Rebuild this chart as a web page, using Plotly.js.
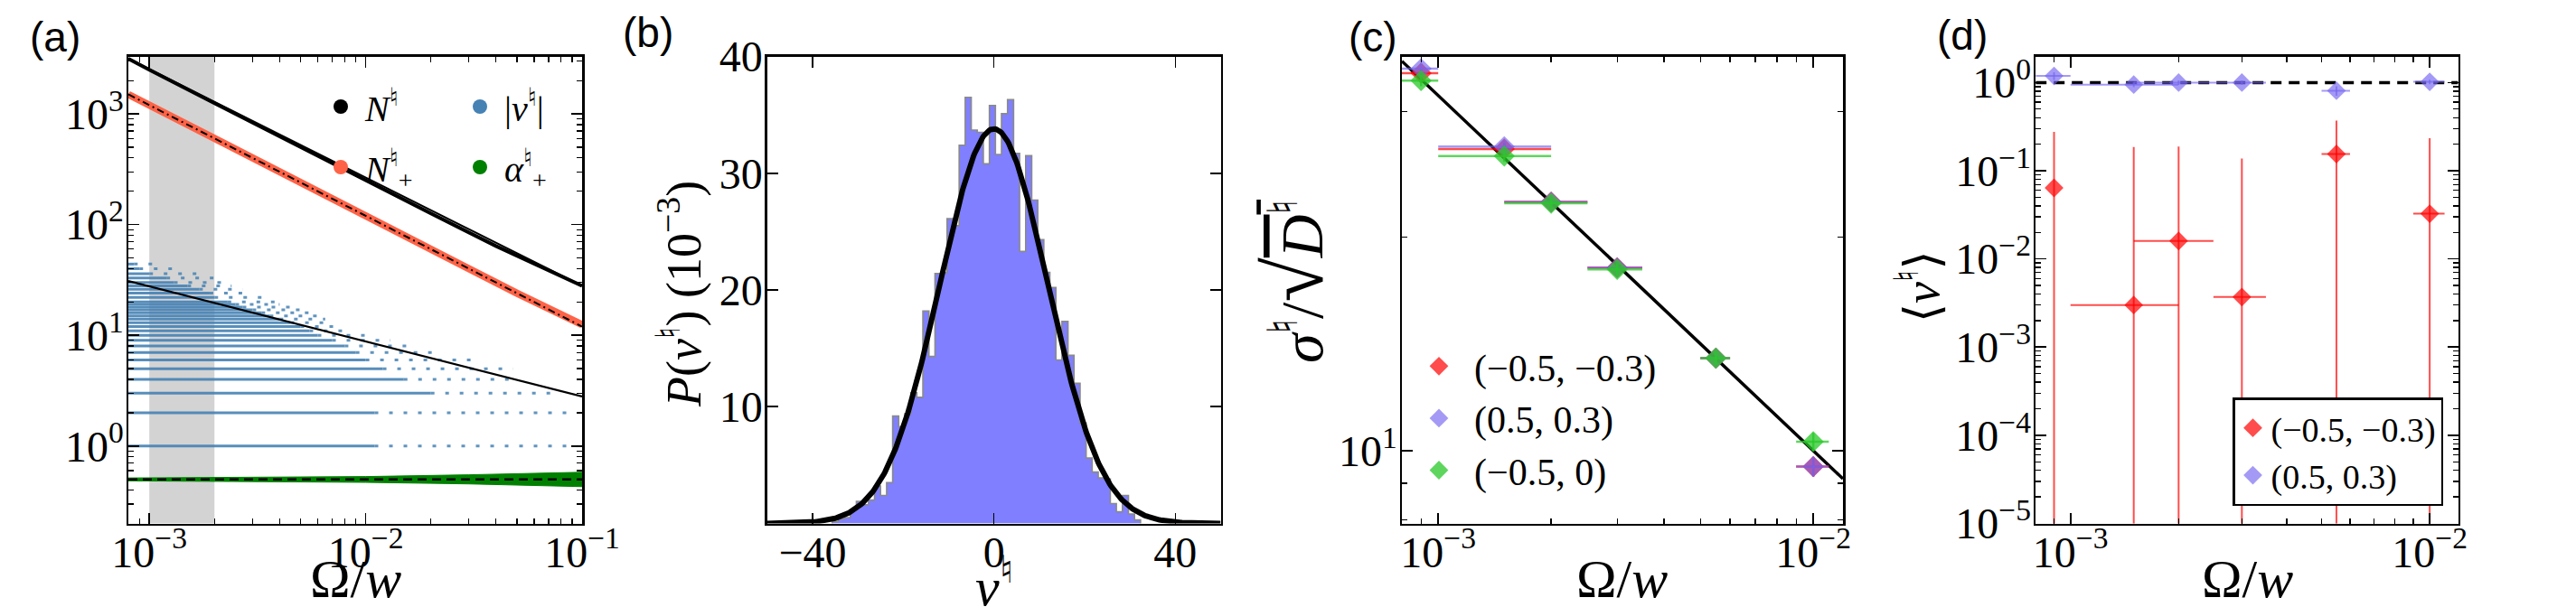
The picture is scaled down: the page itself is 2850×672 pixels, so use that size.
<!DOCTYPE html>
<html><head><meta charset="utf-8">
<script src="https://cdn.plot.ly/plotly-3.0.1.min.js"></script>
<style>html,body{margin:0;padding:0;background:#fff}</style>
</head><body>
<div id="chart" style="width:2850px;height:672px"></div>
<script>
// ================= DATA =================
// ---- panel (a) ----
const aRangeX = [8e-4, 0.1];
const aRangeY = [0.2, 3300];
const grayWindow = [1e-3, 2e-3];
const omegaN = [8e-4, 1e-3, 2e-3, 5e-3, 1e-2, 2e-2, 4e-2, 7e-2, 0.1];
const valN = [3150, 2500, 1250, 500, 250, 126, 64, 39, 28];
const fitNx = [8e-4, 0.1];
const fitNy = [3150, 28];
const omegaNplus = [8e-4, 1e-3, 2e-3, 5e-3, 1e-2, 2e-2, 5e-2, 0.1];
const valNplus = [1500, 1200, 610, 240, 118, 60, 24, 12.5];
const fitNplusY = [1500, 12];
const nuLevels = [1,2,3,4,5,6,7,8,9,10,11,12,13,14,15,16,17,18,19,20,22,24,26,28,30,33,36,40,44];
const nuDenseMax = [0.011,0.011,0.02,0.015,0.012,0.01,0.009,0.008,0.007,0.006,0.0055,0.005,0.0045,0.004,0.0036,0.0033,0.003,0.0027,0.0025,0.0023,0.002,0.0019,0.0017,0.0015,0.0013,0.0012,0.001,0.0009,0.00085];
const nuSparseMax = [0.095,0.09,0.08,0.048,0.048,0.034,0.022,0.016,0.013,0.0105,0.0085,0.0075,0.007,0.0065,0.006,0.0055,0.005,0.0045,0.004,0.0038,0.0035,0.003,0.0027,0.0024,0.0022,0.002,0.0017,0.0014,0.0011];
const fitNuY = [31, 2.8];
const omegaAlpha = [8e-4, 3e-3, 1e-2, 3e-2, 6e-2, 0.1];
const alphaHi = [0.515, 0.52, 0.53, 0.55, 0.57, 0.58];
const alphaLo = [0.485, 0.48, 0.47, 0.455, 0.44, 0.43];
const alphaFit = [0.5, 0.5];

// ---- panel (b) ----
const histStart = -35.667;
const histWidth = 4/3;
const histHeights = [0.15,0.4,0.5,1.1,1.9,1.6,2.0,3.2,2.4,3.5,9.2,8.3,9.4,11.2,10.8,18.2,14.3,21.4,21.5,26.1,25.5,32.4,36.5,33.7,33.5,30.8,35.8,31.6,35.1,36.3,31.7,23.3,31.5,27.7,24.3,21.5,20.2,14.0,17.3,14.4,12.0,8.6,5.6,4.4,3.9,3.8,1.7,1.0,2.4,0.8,0.3];
const gaussMean = 0, gaussSigma = 11.9, gaussPeak = 33.8;
const bRangeX = [-50, 50];

// ---- panel (c) ----
const omegaPts = [9e-4, 1.5e-3, 2e-3, 3e-3, 5.5e-3, 1e-2];
const omegaErr = [1e-4, 5e-4, 5e-4, 5e-4, 5e-4, 1e-3];
const sigRed = [34.0, 26.6, 22.4, 18.1, 13.5, 9.5];
const sigPurple = [34.5, 26.8, 22.4, 18.1, 13.5, 9.5];
const sigGreen = [33.2, 26.0, 22.3, 18.0, 13.5, 10.3];
const sigErr = [0.6, 0.5, 0.4, 0.35, 0.3, 0.3];
const fitSigX = [8e-4, 1.2e-2];
const fitSigY = [35.36, 9.13];

// ---- panel (d) ----
const nuMeanRed = [0.064, 0.0030, 0.016, 0.0037, 0.155, 0.0326];
const nuErrRed = [0.213, 0.183, 0.172, 0.134, 0.216, 0.201];
const omegaErrRedD = [0, 5e-4, 5e-4, 5e-4, 5e-4, 1e-3];
const nuMeanPurple = [1.19, 0.95, 1.0, 1.0, 0.81, 1.02];
const nuErrPurple = [0.12, 0.06, 0.06, 0.06, 0.1, 0.06];
const refLineY = [1, 1];

const seriesNames = ['(−0.5, −0.3)', '(0.5, 0.3)', '(−0.5, 0)'];

// ================= STYLE =================
const W = 2850, H = 672;
const px = v => v / W, py = v => 1 - v / H;
const SERIF = 'Liberation Serif, DejaVu Serif, serif';
const SANS = 'Liberation Sans, Arial, sans-serif';
const RED = 'rgba(255,0,0,0.7)';
const PURPLE = 'rgba(115,100,240,0.65)';
const GREEN = 'rgba(40,200,40,0.75)';
const BLUE = '#4682b4';
const TOMATO = '#ff6347';
const yDom = [py(579.5), py(62.5)];
const TICK = 48, LEG = 40, XT = 60, YT = 54, PANEL = 46;

function minorLog(lo, hi) {
  const out = [];
  for (let d = Math.floor(Math.log10(lo)); d <= Math.ceil(Math.log10(hi)); d++) {
    for (let k = 2; k <= 9; k++) { const v = k * Math.pow(10, d); if (v > lo && v < hi) out.push(v); }
  }
  return out;
}
function pow10Label(e) { return '10<sup>' + (e < 0 ? '−' + (-e) : e) + '</sup>'; }

const minorStyle = {ticks:'inside', ticklen:6, tickwidth:1.3, tickcolor:'black', showgrid:false};
function baseAxis(extra) {
  return Object.assign({
    showline:true, linecolor:'black', linewidth:2.5, mirror:'ticks',
    ticks:'inside', ticklen:12, tickwidth:1.6, tickcolor:'black',
    showgrid:false, zeroline:false, fixedrange:true,
    tickfont:{family:SERIF, size:TICK, color:'black'}
  }, extra);
}
function logAxis(range, majors, labels, domain, minorVals, extra) {
  return baseAxis(Object.assign({
    type:'log', range:[Math.log10(range[0]), Math.log10(range[1])], domain:domain,
    tickmode:'array', tickvals:majors, ticktext:labels,
    minor:Object.assign({tickmode:'array', tickvals:minorVals}, minorStyle)
  }, extra || {}));
}
const XLBL = {ticklabelstandoff:-12};
const YLBL = {ticklabelstandoff:-7};

// ================= TRACES =================
const traces = [];
// (a) gray window
traces.push({x:[grayWindow[0],grayWindow[1],grayWindow[1],grayWindow[0]], y:[aRangeY[0],aRangeY[0],aRangeY[1],aRangeY[1]],
  mode:'lines', fill:'toself', fillcolor:'#d3d3d3', line:{width:0}, showlegend:false, hoverinfo:'skip', xaxis:'x', yaxis:'y'});
// (a) |nu| levels
const denseX = [], denseY = [], sparseX = [], sparseY = [];
nuLevels.forEach((lv, i) => {
  denseX.push(aRangeX[0], nuDenseMax[i], null); denseY.push(lv, lv, null);
  sparseX.push(nuDenseMax[i], nuSparseMax[i], null); sparseY.push(lv, lv, null);
});
traces.push({x:denseX, y:denseY, mode:'lines', line:{color:BLUE, width:3}, opacity:0.9, connectgaps:false, showlegend:false, xaxis:'x', yaxis:'y'});
traces.push({x:sparseX, y:sparseY, mode:'lines', line:{color:BLUE, width:3, dash:'4px,12px'}, opacity:0.85, connectgaps:false, showlegend:false, xaxis:'x', yaxis:'y'});
traces.push({x:fitNx, y:fitNuY, mode:'lines', line:{color:'black', width:2.2}, showlegend:false, xaxis:'x', yaxis:'y'});
// (a) alpha band
traces.push({x:omegaAlpha, y:alphaLo, mode:'lines', line:{color:'green', width:1}, showlegend:false, xaxis:'x', yaxis:'y'});
traces.push({x:omegaAlpha, y:alphaHi, mode:'lines', line:{color:'green', width:1}, fill:'tonexty', fillcolor:'green', showlegend:false, xaxis:'x', yaxis:'y'});
traces.push({x:fitNx, y:alphaFit, mode:'lines', line:{color:'black', width:2.5, dash:'10px,6px'}, showlegend:false, xaxis:'x', yaxis:'y'});
// (a) N+ and N
traces.push({x:omegaNplus, y:valNplus, mode:'lines', line:{color:TOMATO, width:8}, showlegend:false, xaxis:'x', yaxis:'y'});
traces.push({x:fitNx, y:fitNplusY, mode:'lines', line:{color:'black', width:2, dash:'8px,4px,2px,4px'}, showlegend:false, xaxis:'x', yaxis:'y'});
traces.push({x:omegaN, y:valN, mode:'lines', line:{color:'black', width:4}, showlegend:false, xaxis:'x', yaxis:'y'});
traces.push({x:fitNx, y:fitNy, mode:'lines', line:{color:'black', width:2}, showlegend:false, xaxis:'x', yaxis:'y'});
// (a) legend entries
const legA = [
  {name:'<i>N</i><sup>♮</sup>', color:'black', legend:'legend'},
  {name:'|<i>ν</i><sup>♮</sup>|', color:BLUE, legend:'legend'},
  {name:'<i>N</i><sup>♮</sup><sub>+</sub>', color:TOMATO, legend:'legend2'},
  {name:'<i>α</i><sup>♮</sup><sub>+</sub>', color:'green', legend:'legend2'}
];
legA.forEach(e => traces.push({x:[null], y:[null], mode:'markers', marker:{color:e.color, size:16}, name:e.name, legend:e.legend, xaxis:'x', yaxis:'y'}));

// (b) histogram as step-filled outline
const hx = [histStart], hy = [0];
histHeights.forEach((h, i) => { hx.push(histStart + i*histWidth); hy.push(h); });
hx.push(histStart + histHeights.length*histWidth); hy.push(histHeights[histHeights.length-1]);
hx.push(histStart + histHeights.length*histWidth); hy.push(0);
traces.push({x:hx, y:hy, mode:'lines', line:{shape:'hv', color:'#8a8a8a', width:1.6}, fill:'tozeroy', fillcolor:'rgba(0,0,255,0.5)', showlegend:false, xaxis:'x2', yaxis:'y2'});
const gx = [], gy = [];
for (let i = 0; i <= 400; i++) { const v = bRangeX[0] + (bRangeX[1]-bRangeX[0])*i/400; gx.push(v); gy.push(gaussPeak*Math.exp(-Math.pow(v-gaussMean,2)/(2*gaussSigma*gaussSigma))); }
traces.push({x:gx, y:gy, mode:'lines', line:{color:'black', width:6}, showlegend:false, xaxis:'x2', yaxis:'y2'});

// (c)
traces.push({x:fitSigX, y:fitSigY, mode:'lines', line:{color:'black', width:3.5}, showlegend:false, xaxis:'x3', yaxis:'y3'});
[[sigRed, RED, 0], [sigPurple, PURPLE, 1], [sigGreen, GREEN, 2]].forEach(([ys, col, k]) => {
  traces.push({x:omegaPts, y:ys, mode:'markers', name:seriesNames[k], legend:'legend3',
    marker:{symbol:'diamond', size:18, color:col, line:{width:0}},
    error_x:{type:'data', array:omegaErr, color:col, thickness:2.5, width:0},
    error_y:{type:'data', array:sigErr, color:col, thickness:2.5, width:0},
    xaxis:'x3', yaxis:'y3'});
});

// (d)
traces.push({x:fitSigX, y:refLineY, mode:'lines', line:{color:'black', width:3.5, dash:'12px,8px'}, showlegend:false, xaxis:'x4', yaxis:'y4'});
traces.push({x:omegaPts, y:nuMeanRed, mode:'markers', name:seriesNames[0], legend:'legend4',
  marker:{symbol:'diamond', size:16, color:RED, line:{width:0}},
  error_x:{type:'data', array:omegaErrRedD, color:RED, thickness:2, width:0},
  error_y:{type:'data', array:nuErrRed, color:RED, thickness:2, width:0},
  xaxis:'x4', yaxis:'y4'});
traces.push({x:omegaPts, y:nuMeanPurple, mode:'markers', name:seriesNames[1], legend:'legend4',
  marker:{symbol:'diamond', size:16, color:PURPLE, line:{width:0}},
  error_x:{type:'data', array:omegaErr, color:PURPLE, thickness:2, width:0},
  error_y:{type:'data', array:nuErrPurple, color:PURPLE, thickness:2, width:0},
  xaxis:'x4', yaxis:'y4'});

// ================= LAYOUT =================
const dom = {
  a:[px(142), px(644)], b:[px(848.8), px(1350.5)], c:[px(1551), px(2039)], d:[px(2252.2), px(2719.6)]
};
const legFont = {family:SERIF, size:LEG, color:'black'};
const layout = {
  width:W, height:H, margin:{l:0, r:0, t:0, b:0}, paper_bgcolor:'white', plot_bgcolor:'white',
  font:{family:SERIF, color:'black'},
  xaxis: logAxis(aRangeX, [1e-3,1e-2,1e-1], [pow10Label(-3),pow10Label(-2),pow10Label(-1)], dom.a, minorLog(aRangeX[0], aRangeX[1]), Object.assign({anchor:'y'}, XLBL)),
  yaxis: logAxis(aRangeY, [1,10,100,1000], [pow10Label(0),pow10Label(1),pow10Label(2),pow10Label(3)], yDom, minorLog(aRangeY[0], aRangeY[1]), Object.assign({anchor:'x'}, YLBL)),
  xaxis2: baseAxis(Object.assign({range:bRangeX, domain:dom.b, anchor:'y2', tickmode:'array', tickvals:[-40,0,40], ticktext:['−40','0','40']}, XLBL)),
  yaxis2: baseAxis(Object.assign({range:[0,40], domain:yDom, anchor:'x2', tickmode:'array', tickvals:[10,20,30,40], ticktext:['10','20','30','40']}, YLBL)),
  xaxis3: logAxis([8e-4,1.2e-2], [1e-3,1e-2], [pow10Label(-3),pow10Label(-2)], dom.c, minorLog(8e-4,1.2e-2), Object.assign({anchor:'y3'}, XLBL)),
  yaxis3: logAxis([7.9,35.9], [10], [pow10Label(1)], yDom, [8,9,20,30], Object.assign({anchor:'x3'}, YLBL)),
  xaxis4: logAxis([8e-4,1.2e-2], [1e-3,1e-2], [pow10Label(-3),pow10Label(-2)], dom.d, minorLog(8e-4,1.2e-2), Object.assign({anchor:'y4'}, XLBL)),
  yaxis4: logAxis([1e-5,1.98], [1e-5,1e-4,1e-3,1e-2,1e-1,1], [pow10Label(-5),pow10Label(-4),pow10Label(-3),pow10Label(-2),pow10Label(-1),pow10Label(0)], yDom, minorLog(1e-5,1.98), Object.assign({anchor:'x4'}, YLBL)),
  legend: {orientation:'h', x:px(350), y:py(118), xanchor:'left', yanchor:'middle', font:legFont, bgcolor:'rgba(0,0,0,0)', entrywidth:95, entrywidthmode:'pixels', itemsizing:'trace', traceorder:'normal', itemwidth:44},
  legend2:{orientation:'h', x:px(350), y:py(185), xanchor:'left', yanchor:'middle', font:legFont, bgcolor:'rgba(0,0,0,0)', entrywidth:95, entrywidthmode:'pixels', itemsizing:'trace', traceorder:'normal', itemwidth:44},
  legend3:{orientation:'v', x:px(1553), y:py(463), xanchor:'left', yanchor:'middle', font:{family:SERIF, size:42, color:'black'}, bgcolor:'rgba(0,0,0,0)', traceorder:'normal', itemwidth:68},
  legend4:{orientation:'v', x:px(2470), y:py(560), xanchor:'left', yanchor:'bottom', font:{family:SERIF, size:38, color:'black'}, bgcolor:'white', bordercolor:'black', borderwidth:2.5, traceorder:'normal', itemwidth:30},
  annotations: [
    {text:'(a)', x:px(61), y:py(41)}, {text:'(b)', x:px(717), y:py(36)},
    {text:'(c)', x:px(1519), y:py(41)}, {text:'(d)', x:px(2171), y:py(39)}
  ].map(a => Object.assign({xref:'paper', yref:'paper', showarrow:false, xanchor:'center', yanchor:'middle', font:{family:SANS, size:PANEL, color:'black'}}, a)).concat(
  [
    {text:'Ω/<i>w</i>', x:px(393), y:py(606)},
    {text:'<i>ν</i><sup>♮</sup>', x:px(1100), y:py(606)},
    {text:'Ω/<i>w</i>', x:px(1795), y:py(606)},
    {text:'Ω/<i>w</i>', x:px(2486), y:py(606)}
  ].map(a => Object.assign({xref:'paper', yref:'paper', showarrow:false, xanchor:'center', yanchor:'top', font:{family:SERIF, size:XT, color:'black'}}, a)),
  [
    {text:'<i>P</i>(<i>ν</i><sup>♮</sup>) (10<sup>−3</sup>)', x:px(752), y:py(326), size:YT},
    {text:'<i>σ</i><sup>♮</sup>/<span style="font-size:90px">√</span><span style="text-decoration:overline"><i>D</i><sup>♮</sup></span>', x:px(1432), y:py(312), size:66},
    {text:'⟨<i>ν</i><sup>♮</sup>⟩', x:px(2122), y:py(317), size:YT}
  ].map(a => ({xref:'paper', yref:'paper', showarrow:false, xanchor:'center', yanchor:'middle', textangle:-90, text:a.text, x:a.x, y:a.y, font:{family:SERIF, size:a.size, color:'black'}})))
};

Plotly.newPlot('chart', traces, layout, {staticPlot:true, displayModeBar:false});
</script>
</body></html>
